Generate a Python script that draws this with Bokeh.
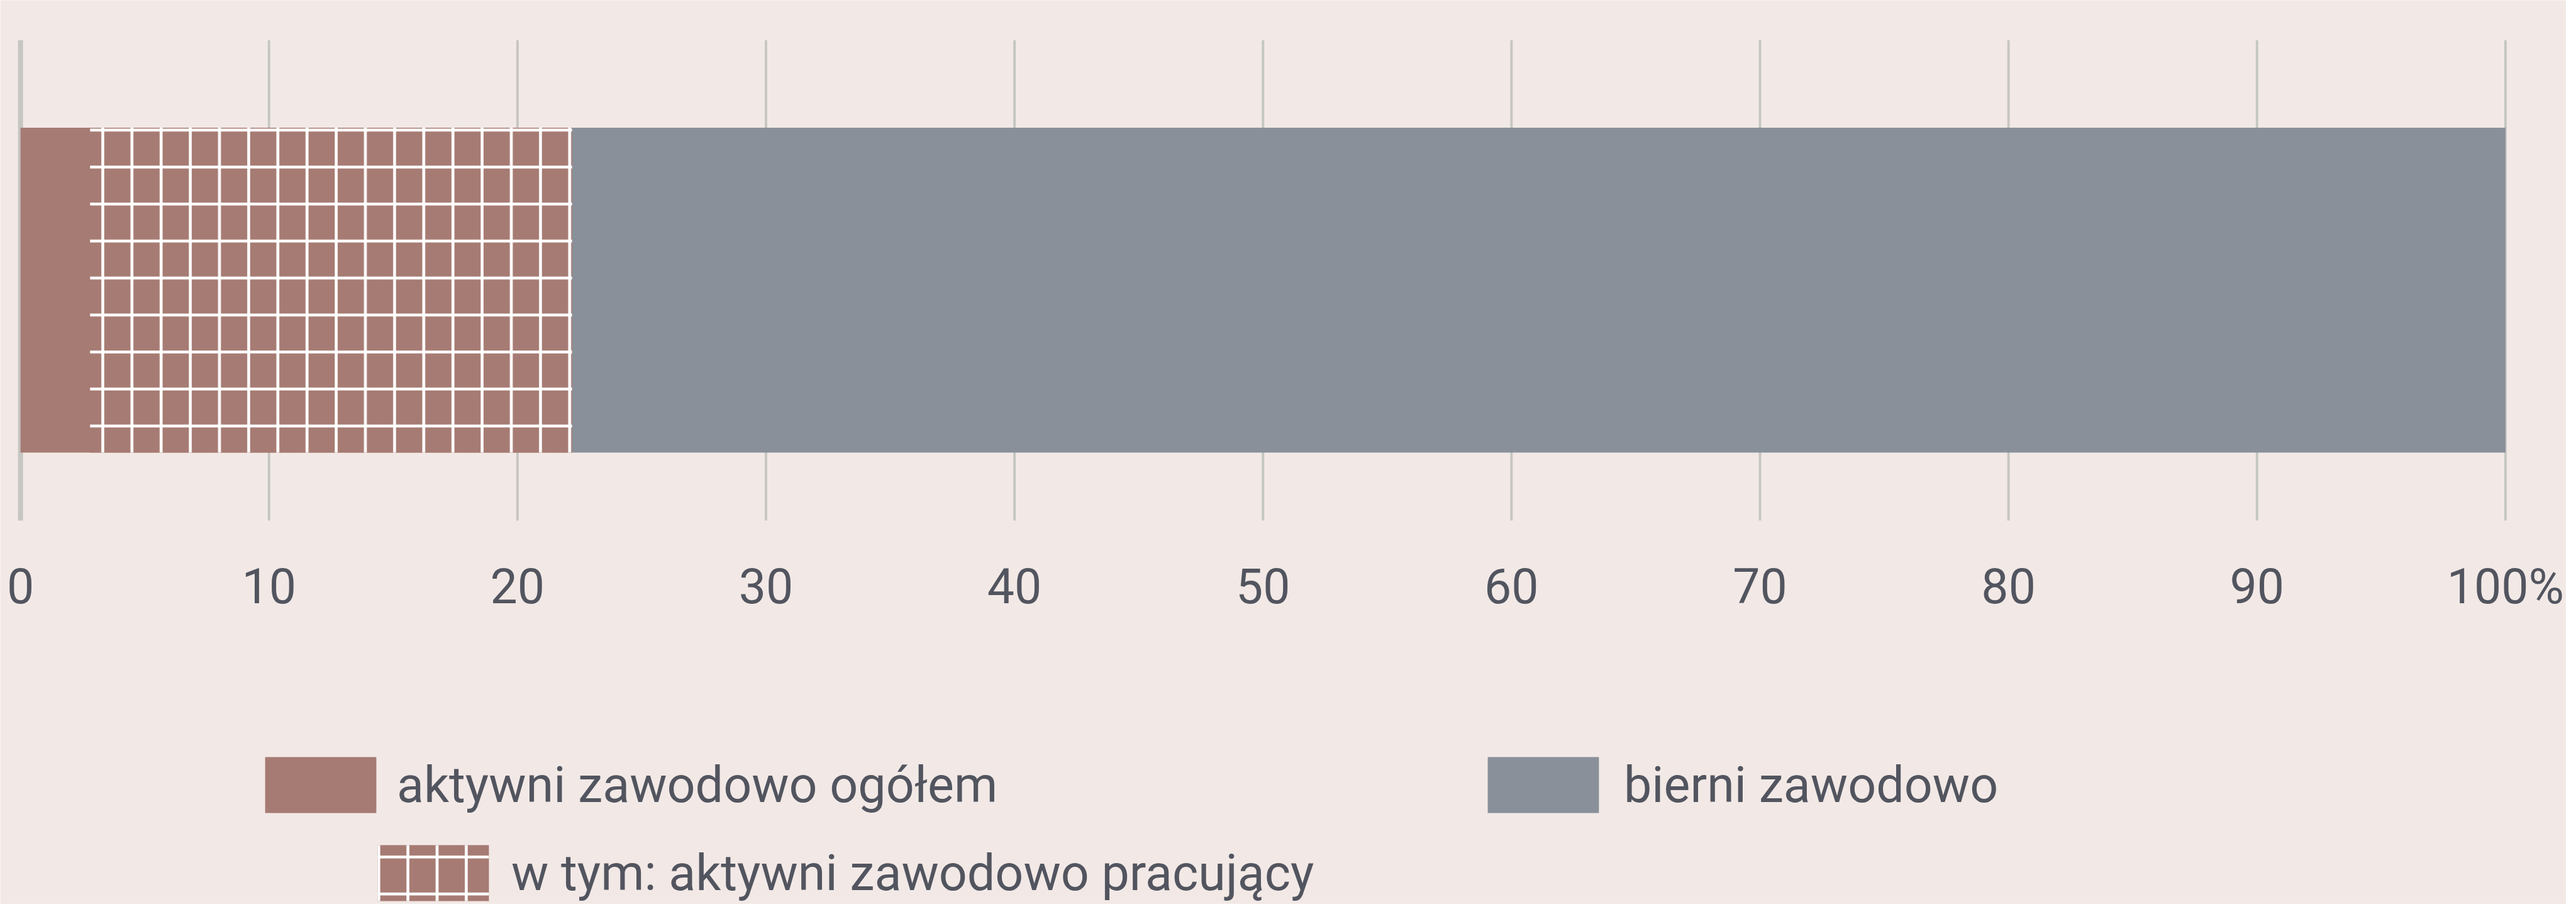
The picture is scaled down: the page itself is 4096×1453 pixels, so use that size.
from bokeh.plotting import figure
from bokeh.models import (Range1d, LinearAxis, FixedTicker, Legend, LegendItem)
from bokeh.embed import file_html
from bokeh.resources import INLINE

# ---- data ----
categories = ["aktywni zawodowo ogółem", "w tym: aktywni zawodowo pracujący", "bierni zawodowo"]
aktywni_ogolem = [22.2]
aktywni_pracujacy = [19.4]
bierni = [77.8]
tick_values = [0, 10, 20, 30, 40, 50, 60, 70, 80, 90, 100]
tick_labels = ["0", "10", "20", "30", "40", "50", "60", "70", "80", "90", "100%"]

# ---- style ----
BG = "#f2e9e6"
C_AKT = "#a67b73"
C_BIER = "#89909a"
C_TEXT = "#52555f"
C_GRID = "#c6c6c2"
FONT = "Roboto"

W, H = 4080, 1437
X0_PX, X100_PX = 32.1, 3983.4
UNIT = (X100_PX - X0_PX) / 100.0
X_START = -X0_PX / UNIT
X_END = 100 + (W - X100_PX) / UNIT
BAR_TOP, BAR_BOTTOM = 202.5, 719.1
GRID_TOP, GRID_BOTTOM = 63.5, 827.0

p = figure(width=W, height=H, x_range=Range1d(X_START, X_END), y_range=Range1d(H, 0),
           x_axis_location=None, y_axis_location=None,
           toolbar_location=None, output_backend="svg",
           min_border=0, min_border_left=0, min_border_right=0,
           min_border_top=0, min_border_bottom=0,
           background_fill_color=BG, border_fill_color=BG,
           outline_line_color=None)
p.grid.grid_line_color = None

# grid lines (zero line thicker)
p.segment(x0=tick_values[:1], y0=GRID_TOP, x1=tick_values[:1], y1=GRID_BOTTOM,
          line_color=C_GRID, line_width=8)
p.segment(x0=tick_values[1:], y0=GRID_TOP, x1=tick_values[1:], y1=GRID_BOTTOM,
          line_color=C_GRID, line_width=3.9)

# bars
akt_right = aktywni_ogolem[0]
prac_left = akt_right - aktywni_pracujacy[0]
r_akt = p.quad(left=[0], right=aktywni_ogolem, top=BAR_TOP, bottom=BAR_BOTTOM,
               fill_color=C_AKT, line_color=None)
r_prac_v = p.quad(left=[prac_left], right=aktywni_ogolem, top=BAR_TOP, bottom=BAR_BOTTOM,
                  fill_color=C_AKT, line_color=None,
                  hatch_pattern="|", hatch_color="white", hatch_weight=4.6, hatch_scale=46.4)
r_prac_h = p.quad(left=[prac_left], right=aktywni_ogolem, top=BAR_TOP, bottom=BAR_BOTTOM,
                  fill_alpha=0, line_color=None,
                  hatch_pattern="-", hatch_color="white", hatch_weight=4.6, hatch_scale=58.8)
r_bier = p.quad(left=aktywni_ogolem, right=[aktywni_ogolem[0] + bierni[0]],
                top=BAR_TOP, bottom=BAR_BOTTOM, fill_color=C_BIER, line_color=None)

# x axis
ax = LinearAxis(ticker=FixedTicker(ticks=tick_values),
                major_label_overrides={v: l for v, l in zip(tick_values, tick_labels)},
                axis_line_color=None, major_tick_line_color=None, minor_tick_line_color=None,
                major_tick_out=0, major_tick_in=0, major_label_standoff=0,
                major_label_text_font=FONT, major_label_text_font_size="77px",
                major_label_text_color=C_TEXT, fixed_location=887)
p.add_layout(ax, "below")

# legends (area swatch is inset 10% inside glyph box)
GW, GH = 221, 111

def make_legend(label, renderers, loc, standoff):
    lg = Legend(items=[LegendItem(label=label, renderers=renderers)],
                location=loc, orientation="horizontal",
                glyph_width=GW, glyph_height=GH, label_standoff=standoff,
                label_text_font=FONT, label_text_font_size="79px",
                label_text_color=C_TEXT, padding=0, margin=0, spacing=0,
                border_line_color=None, background_fill_alpha=0,
                label_height=GH)
    p.add_layout(lg)
    return lg

make_legend(categories[0], [r_akt], (399, 134), 11)
make_legend(categories[2], [r_bier], (2343, 134), 18)
make_legend(categories[1], [r_prac_v, r_prac_h], (578, -6), 14)

open("out.html", "w").write(file_html(p, INLINE))
